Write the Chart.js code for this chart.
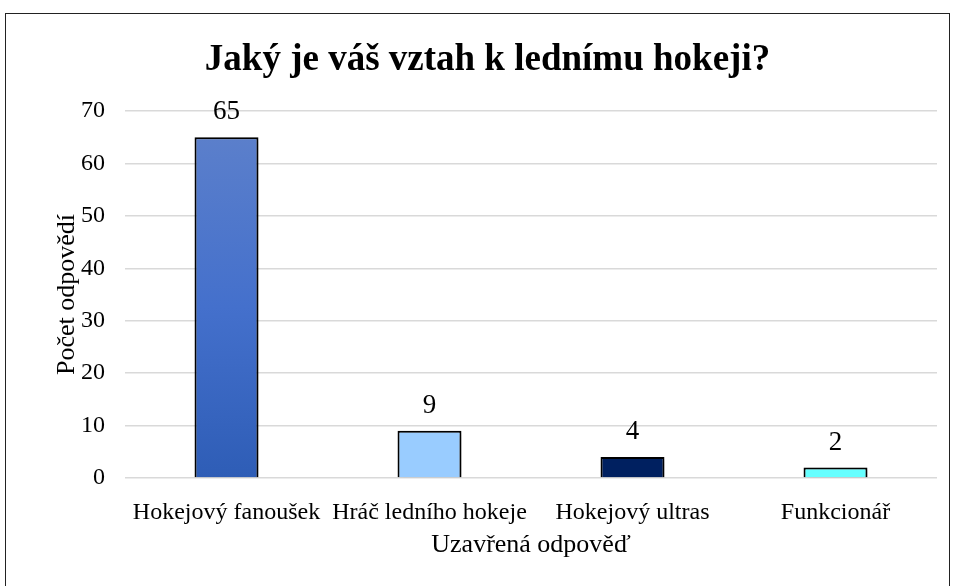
<!DOCTYPE html>
<html>
<head>
<meta charset="utf-8">
<script src="https://cdn.jsdelivr.net/npm/chart.js@4"></script>
<style>
  body { margin: 0; background: #fff; }
  #frame { position: absolute; left: 5px; top: 13px; width: 945px; height: 620px; border: 1.5px solid #222; box-sizing: border-box; }
  #wrap { position: absolute; left: 0; top: 0; width: 956px; height: 586px; }
</style>
</head>
<body>
<div id="frame"></div>
<div id="wrap"><canvas id="chart" width="956" height="586"></canvas></div>
<script>
const categories = ['Hokejový fanoušek', 'Hráč ledního hokeje', 'Hokejový ultras', 'Funkcionář'];
const counts = [65, 9, 4, 2];
const yTicks = [0, 10, 20, 30, 40, 50, 60, 70];
const barColors = [null, '#99ccff', '#002060', '#66ffff'];

const font = '"Liberation Serif", "Times New Roman", serif';

// value labels above bars
const valueLabels = {
    id: 'valueLabels',
    afterDatasetsDraw(chart) {
        const ctx = chart.ctx;
        const meta = chart.getDatasetMeta(0);
        ctx.save();
        ctx.font = '27px ' + font;
        ctx.fillStyle = '#000';
        ctx.textAlign = 'center';
        ctx.textBaseline = 'alphabetic';
        meta.data.forEach((bar, i) => {
            ctx.fillText(String(counts[i]), bar.x, bar.y - 18);
        });
        ctx.restore();
    }
};

// soft shadow behind bars
const barShadow = {
    id: 'barShadow',
    beforeDatasetDraw(chart) {
        const ctx = chart.ctx;
        ctx.save();
        ctx.shadowColor = 'rgba(0,0,0,0.35)';
        ctx.shadowBlur = 5;
        ctx.shadowOffsetX = 2;
        ctx.shadowOffsetY = 2;
    },
    afterDatasetDraw(chart) {
        chart.ctx.restore();
    }
};

new Chart(document.getElementById('chart'), {
    type: 'bar',
    data: {
        labels: categories,
        datasets: [{
            data: counts,
            backgroundColor: (c) => {
                if (c.dataIndex !== 0) return barColors[c.dataIndex];
                const area = c.chart.chartArea;
                if (!area) return '#4472c4';
                const y = c.chart.scales.y;
                const g = c.chart.ctx.createLinearGradient(0, y.getPixelForValue(counts[0]), 0, y.getPixelForValue(0));
                g.addColorStop(0, '#5b7fcb');
                g.addColorStop(0.5, '#4470cc');
                g.addColorStop(1, '#2e5db6');
                return g;
            },
            borderColor: '#000',
            borderWidth: 2,
            categoryPercentage: 1,
            barPercentage: 0.315
        }]
    },
    options: {
        responsive: false,
        animation: false,
        layout: { padding: { left: 38, right: 19, top: 0, bottom: 25 } },
        plugins: {
            legend: { display: false },
            tooltip: { enabled: false },
            title: {
                display: true,
                text: 'Jaký je váš vztah k lednímu hokeji?',
                color: '#000',
                font: { family: font, size: 37, weight: 'bold' },
                padding: { top: 38, bottom: 28.6 }
            }
        },
        scales: {
            x: {
                grid: { display: false },
                border: { display: false },
                ticks: { color: '#000', font: { family: font, size: 24 }, padding: 12, maxRotation: 0, autoSkip: false },
                title: { display: true, text: 'Uzavřená odpověď', color: '#000', font: { family: font, size: 26 }, padding: 0 },
                afterFit: (s) => { s.height = 83; }
            },
            y: {
                min: 0,
                max: 70,
                afterBuildTicks: (s) => { s.ticks = yTicks.map(v => ({ value: v })); },
                grid: { color: '#d9d9d9', lineWidth: 1.5, drawTicks: false },
                border: { display: false },
                ticks: { color: '#000', font: { family: font, size: 24 }, padding: 20 },
                title: { display: true, text: 'Počet odpovědí', color: '#000', font: { family: font, size: 26 }, padding: { top: 14, bottom: 0 } },
                afterFit: (s) => { s.width = 87; }
            }
        }
    },
    plugins: [barShadow, valueLabels]
});
</script>
</body>
</html>
